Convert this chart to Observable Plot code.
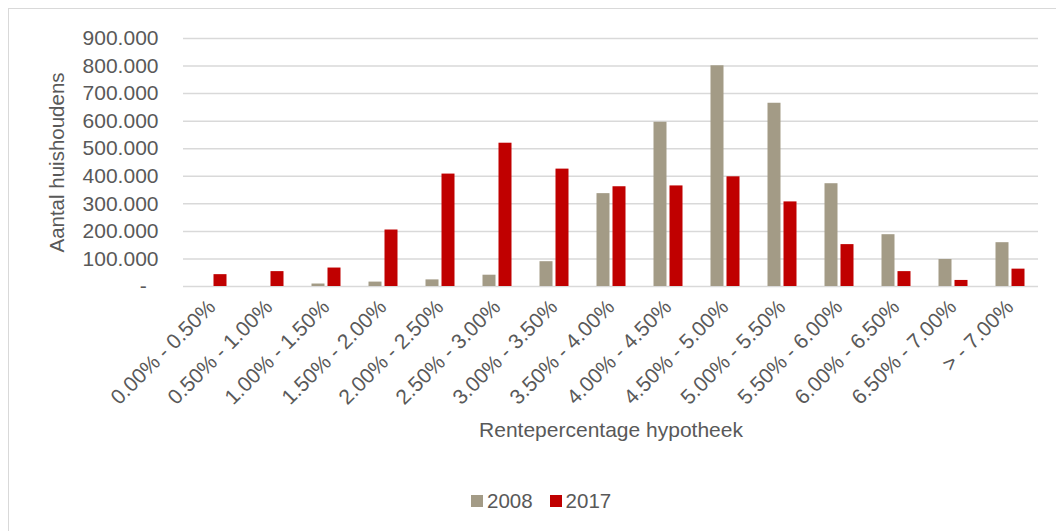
<!DOCTYPE html>
<html><head><meta charset="utf-8">
<script src="https://cdn.jsdelivr.net/npm/d3@7"></script>
<script src="https://cdn.jsdelivr.net/npm/@observablehq/plot@0.6"></script>
<style>
body{margin:0;background:#fff;font-family:"Liberation Sans",Arial,sans-serif;overflow:hidden}
#wrap{position:relative;width:1056px;height:531px;overflow:hidden}
#frame{position:absolute;left:8px;top:8px;width:1100px;height:600px;border:1.5px solid #d9d9d9;box-sizing:border-box}
#chart{position:absolute;left:0;top:0}
#legend{position:absolute;top:489px;left:471px;display:flex;align-items:center;font-size:20.5px;color:#595959}
#legend .sw{width:12px;height:12px;display:inline-block;margin-right:4px}
#legend .it{display:flex;align-items:center;margin-right:17px}
</style>
</head><body>
<div id="wrap"><div id="frame"></div><div id="chart"></div><div id="legend"></div></div>
<script>
const categories = ["0.00% - 0.50%","0.50% - 1.00%","1.00% - 1.50%","1.50% - 2.00%","2.00% - 2.50%","2.50% - 3.00%","3.00% - 3.50%","3.50% - 4.00%","4.00% - 4.50%","4.50% - 5.00%","5.00% - 5.50%","5.50% - 6.00%","6.00% - 6.50%","6.50% - 7.00%","> - 7.00%"];
const years = ["2008","2017"];
const v2008 = [0, 0, 9000, 16000, 24000, 41000, 90000, 337000, 596000, 801000, 665000, 373000, 188000, 98000, 159000];
const v2017 = [43000, 54000, 67000, 205000, 408000, 520000, 426000, 362000, 365000, 398000, 307000, 152000, 54000, 22000, 63000];
const colors = ["#A39B86","#C00000"];
const yTicks = [0,100000,200000,300000,400000,500000,600000,700000,800000,900000];

const data = categories.flatMap((c,i)=>[
  {cat:c, year:years[0], value:v2008[i]},
  {cat:c, year:years[1], value:v2017[i]}
]);
const fmt = d => d === 0 ? "-\u2007" : d3.format(",")(d).replace(/,/g,".");

const chart = Plot.plot({
  width:1056, height:470,
  marginLeft:182.5, marginRight:18, marginTop:38, marginBottom:184,
  style:{fontFamily:"'Liberation Sans', Arial, sans-serif", fontSize:"21px", color:"#595959", background:"transparent"},
  fx:{domain:categories, padding:0, label:null},
  x:{domain:years, paddingInner:0.1875, paddingOuter:0.875, axis:null},
  y:{domain:[0,900000]},
  color:{domain:years, range:colors},
  marks:[
    Plot.gridY(yTicks, {stroke:"#d9d9d9", strokeWidth:1.5, strokeOpacity:1}),
    Plot.barY(data, {fx:"cat", x:"year", y:"value", fill:"year"}),
    Plot.axisY({ticks:yTicks, tickFormat:fmt, tickSize:0, tickPadding:25, label:null}),
    Plot.axisY({ticks:[], tickSize:0, label:"Aantal huishoudens", labelArrow:"none", labelAnchor:"center", labelOffset:134, fontSize:20.5}),
    Plot.axisFx({anchor:"bottom", tickRotate:-45, tickSize:0, tickPadding:17, label:"Rentepercentage hypotheek", labelAnchor:"center", labelOffset:150, labelArrow:"none"})
  ]
});
document.getElementById("chart").appendChild(chart);

const legend = document.getElementById("legend");
years.forEach((y,i)=>{
  const it = document.createElement("div"); it.className="it";
  const sw = document.createElement("span"); sw.className="sw"; sw.style.background=colors[i];
  const t = document.createElement("span"); t.textContent=y;
  it.appendChild(sw); it.appendChild(t); legend.appendChild(it);
});
</script>
</body></html>
